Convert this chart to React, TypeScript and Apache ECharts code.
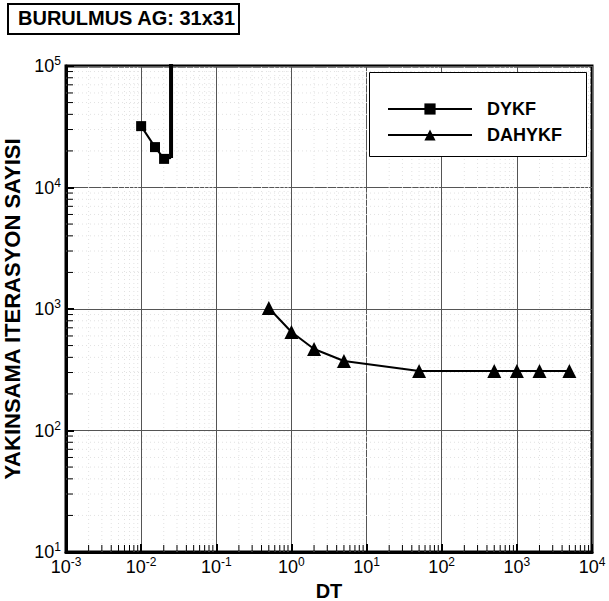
import React, { useEffect, useRef } from "react";
import * as echarts from "echarts";

const xDecades = [0.001, 0.01, 0.1, 1, 10, 100, 1000, 10000];
const yDecades = [10, 100, 1000, 10000, 100000];
const minorFactors = [2, 3, 4, 5, 6, 7, 8, 9];

const dykfDT = [0.01, 0.0153, 0.0202];
const dykfIter = [32000, 21500, 17200];
const dykfEndDT = [0.025, 0.025];
const dykfEndIter = [17500, 1000000];

const dahykfDT = [0.5, 1, 2, 5, 50, 500, 1000, 2000, 5000];
const dahykfIter = [1020, 647, 469, 373, 309, 309, 309, 309, 309];

const FONT = "Liberation Sans, Arial, sans-serif";

function minorValues(decades: number[]) {
  const out: number[] = [];
  for (let i = 0; i < decades.length - 1; i++) {
    for (const f of minorFactors) out.push(decades[i] * f);
  }
  return out;
}

export default function App() {
  const ref = useRef<HTMLDivElement>(null);
  useEffect(() => {
    if (!ref.current) return;
    const chart = echarts.init(ref.current, undefined, { renderer: "svg" });
    const xMin = xDecades[0];
    const xMax = xDecades[xDecades.length - 1];
    const yMin = yDecades[0];
    const yMax = yDecades[yDecades.length - 1];
    const labelFmt = (v: number) => `{b|10}{s|${Math.round(Math.log10(v))}}`;
    const rich = {
      b: { fontSize: 18, fontFamily: FONT, color: "#000" },
      s: { fontSize: 12, fontFamily: FONT, color: "#000", verticalAlign: "top", padding: [0, 0, 10, 0] },
    };
    const minorX = minorValues(xDecades);
    const minorY = minorValues(yDecades);

    const dykfLine = dykfDT.map((d, i) => [d, dykfIter[i]]);
    dykfLine.push([dykfEndDT[0], dykfEndIter[0]] as any);
    const dykfData: any[] = dykfLine.map((p, i) =>
      i < dykfDT.length ? { value: p } : { value: p, symbol: "none" }
    );

    chart.setOption({
      animation: false,
      backgroundColor: "#fff",
      grid: {
        left: 66,
        top: 66,
        right: 17,
        bottom: 49,
        outerBoundsMode: "none",
        containLabel: false,
        show: true,
        borderColor: "#000",
        borderWidth: 3,
        backgroundColor: "transparent",
      },
      xAxis: {
        type: "log",
        logBase: 10,
        min: xMin,
        max: xMax,
        name: "DT",
        nameLocation: "middle",
        nameGap: 21,
        nameTextStyle: { fontSize: 20, fontWeight: "bold", fontFamily: FONT, color: "#000" },
        axisLine: { show: true, lineStyle: { color: "#000", width: 3 } },
        axisTick: { show: true, inside: true, length: 8, lineStyle: { color: "#000", width: 2 } },
        axisLabel: { formatter: labelFmt, rich, margin: 4 },
        splitLine: { show: true, lineStyle: { color: "#555", width: 1 } },
        minorTick: { show: false },
      },
      yAxis: {
        type: "log",
        logBase: 10,
        min: yMin,
        max: yMax,
        name: "YAKINSAMA ITERASYON SAYISI",
        nameLocation: "middle",
        nameGap: 39,
        nameTextStyle: { fontSize: 22, fontWeight: "bold", fontFamily: FONT, color: "#000" },
        axisLine: { show: true, lineStyle: { color: "#000", width: 3 } },
        axisTick: { show: true, inside: true, length: 8, lineStyle: { color: "#000", width: 2 } },
        axisLabel: { formatter: labelFmt, rich, margin: 5 },
        splitLine: { show: true, lineStyle: { color: "#555", width: 1 } },
      },
      legend: {
        data: ["DYKF", "DAHYKF"],
        orient: "vertical",
        left: 387,
        top: 100,
        itemWidth: 84,
        itemHeight: 14,
        itemGap: 8,
        padding: 0,
        z: 20,
        textStyle: { fontSize: 18, fontWeight: "bold", fontFamily: FONT, color: "#000", padding: [0, 0, 0, 10] },
      },
      graphic: [
        {
          type: "rect",
          left: 7,
          top: 3,
          shape: { width: 231, height: 30 },
          style: { fill: "#fff", stroke: "#000", lineWidth: 2 },
          z: 10,
        },
        {
          type: "text",
          left: 18,
          top: 8,
          style: { text: "BURULMUS AG: 31x31", font: `bold 20px ${FONT}`, fill: "#000" },
          z: 11,
        },
        {
          type: "rect",
          left: 369,
          top: 72,
          shape: { width: 217, height: 84 },
          style: { fill: "#fff", stroke: "#000", lineWidth: 1 },
          z: 10,
        },
      ],
      series: [
        {
          name: "minorX",
          type: "custom",
          silent: true,
          z: 1,
          data: minorX.map((v) => [v, yMin]),
          renderItem: (params: any, api: any) => {
            const v = api.value(0);
            const b = api.coord([v, yMin]);
            const t = api.coord([v, yMax]);
            return {
              type: "group",
              children: [
                { type: "line", shape: { x1: b[0], y1: b[1], x2: b[0], y2: t[1] }, style: { stroke: "#e2e2e2", lineWidth: 1, lineDash: [1, 3] } },
                { type: "line", shape: { x1: b[0], y1: b[1], x2: b[0], y2: b[1] - 7 }, style: { stroke: "#000", lineWidth: 1 } },
              ],
            };
          },
        },
        {
          name: "minorY",
          type: "custom",
          silent: true,
          z: 1,
          data: minorY.map((v) => [xMin, v]),
          renderItem: (params: any, api: any) => {
            const v = api.value(1);
            const l = api.coord([xMin, v]);
            const r = api.coord([xMax, v]);
            return {
              type: "group",
              children: [
                { type: "line", shape: { x1: l[0], y1: l[1], x2: r[0], y2: l[1] }, style: { stroke: "#e2e2e2", lineWidth: 1, lineDash: [1, 3] } },
                { type: "line", shape: { x1: l[0], y1: l[1], x2: l[0] + 7, y2: l[1] }, style: { stroke: "#000", lineWidth: 1 } },
              ],
            };
          },
        },
        {
          name: "DYKF",
          type: "line",
          data: dykfData,
          symbol: "rect",
          symbolSize: 10,
          lineStyle: { color: "#000", width: 2 },
          itemStyle: { color: "#000" },
          z: 5,
        },
        {
          name: "DYKF-diverge",
          type: "line",
          data: dykfEndDT.map((d, i) => [d, dykfEndIter[i]]),
          symbol: "none",
          lineStyle: { color: "#000", width: 4 },
          z: 5,
        },
        {
          name: "DAHYKF",
          type: "line",
          data: dahykfDT.map((d, i) => [d, dahykfIter[i]]),
          symbol: "triangle",
          symbolSize: 14,
          lineStyle: { color: "#000", width: 2 },
          itemStyle: { color: "#000" },
          z: 5,
        },
      ],
    });
    return () => chart.dispose();
  }, []);
  return <div ref={ref} style={{ width: 609, height: 601, position: "absolute", left: 0, top: 0 }} />;
}
